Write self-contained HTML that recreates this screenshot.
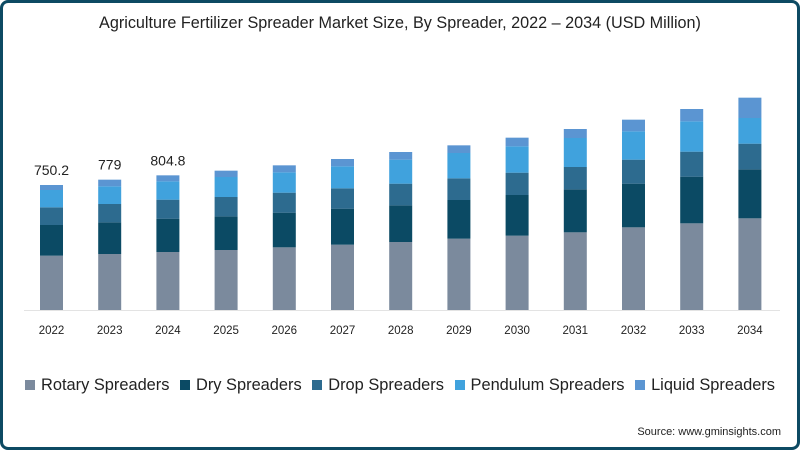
<!DOCTYPE html>
<html><head><meta charset="utf-8"><style>
html,body{margin:0;padding:0;background:#fff;}
#wrap{position:relative;width:800px;height:450px;box-sizing:border-box;border:3px solid #0d4a63;border-radius:8px;overflow:hidden;font-family:"Liberation Sans",sans-serif;background:#fff;}
#title{position:absolute;left:-3px;top:11px;width:800px;text-align:center;font-size:16.2px;color:#222;}
#legend{position:absolute;left:-3px;top:373px;width:800px;text-align:center;font-size:16.4px;color:#222;white-space:nowrap;}
.li{display:inline-block;margin:0 3px;}
.sw{display:inline-block;width:10px;height:10px;margin-right:6px;vertical-align:0px;}
#src{position:absolute;right:16px;top:423px;font-size:11px;color:#222;}
svg{position:absolute;left:-3px;top:-3px;}
</style></head><body>
<div id="wrap">
<div id="title">Agriculture Fertilizer Spreader Market Size, By Spreader, 2022 – 2034 (USD Million)</div>
<svg id="chart" width="800" height="450"></svg>
<div id="legend">
<span class="li"><span class="sw" style="background:#7b8a9d"></span>Rotary Spreaders</span>
<span class="li"><span class="sw" style="background:#0b4a64"></span>Dry Spreaders</span>
<span class="li"><span class="sw" style="background:#2d6b8f"></span>Drop Spreaders</span>
<span class="li"><span class="sw" style="background:#40a2dd"></span>Pendulum Spreaders</span>
<span class="li"><span class="sw" style="background:#5b95d2"></span>Liquid Spreaders</span>
</div>
<div id="src">Source: www.gminsights.com</div>
</div>
<script>
const years=["2022","2023","2024","2025","2026","2027","2028","2029","2030","2031","2032","2033","2034"];
const rotary=[326,336,348,360,376,392,408,428,446,466,496,520,550];
const dry=[184,190,200,202,208,216,220,232,244,258,262,280,294];
const drop=[106,110,114,116,120,122,130,130,134,134,144,150,154];
const pendulum=[104,106,110,120,122,132,144,152,158,174,170,182,154];
const liquid=[30,40,36,38,42,44,46,46,52,54,70,74,122];
const labels=["750.2","779","804.8","","","","","","","","","",""];
const series=[rotary,dry,drop,pendulum,liquid];
const names=["rotary","dry","drop","pendulum","liquid"];
const colors=["#7b8a9d","#0b4a64","#2d6b8f","#40a2dd","#5b95d2"];
const svg=document.getElementById('chart');
const NS="http://www.w3.org/2000/svg";
const base=310, ppu=125/750, x0=51.5, step=58.2, bw=23;
const xS=i=>x0+i*step;
const yS=v=>base-v*ppu;
const axis=document.createElementNS(NS,'line');
axis.setAttribute('x1',24);axis.setAttribute('x2',780);axis.setAttribute('y1',base+0.5);axis.setAttribute('y2',base+0.5);
axis.setAttribute('stroke','#e3e3e3');


svg.appendChild(axis);
years.forEach((y,i)=>{
  let cum=0;
  series.forEach((s,k)=>{
    const r=document.createElementNS(NS,'rect');
    r.setAttribute('x',xS(i)-bw/2);
    r.setAttribute('y',yS(cum+s[i]));
    r.setAttribute('width',bw);
    r.setAttribute('height',s[i]*ppu);
    r.setAttribute('fill',colors[k]);
    
    
    svg.appendChild(r);
    cum+=s[i];
  });
  const t=document.createElementNS(NS,'text');
  t.setAttribute('x',xS(i));t.setAttribute('y',334);
  t.setAttribute('text-anchor','middle');t.setAttribute('font-size','11.5');t.setAttribute('fill','#222');
  t.setAttribute('font-family','Liberation Sans, sans-serif');
  t.textContent=y;
  
  
  svg.appendChild(t);
  if(labels[i]){
    const l=document.createElementNS(NS,'text');
    l.setAttribute('x',xS(i));l.setAttribute('y',yS(cum)-10);
    l.setAttribute('text-anchor','middle');l.setAttribute('font-size','14');l.setAttribute('fill','#222');
    l.setAttribute('font-family','Liberation Sans, sans-serif');
    l.textContent=labels[i];
    
    
    svg.appendChild(l);
  }
});
</script>
</body></html>
